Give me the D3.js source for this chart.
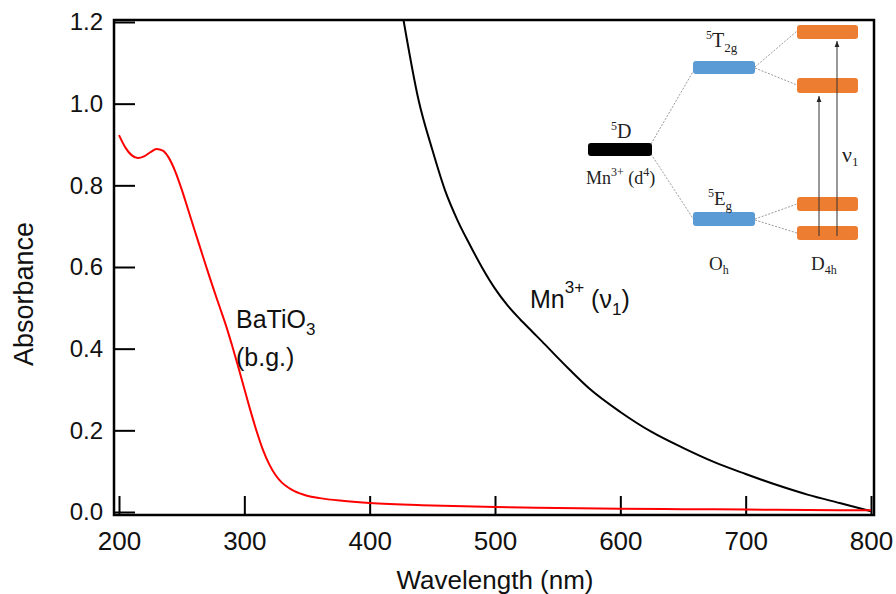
<!DOCTYPE html>
<html><head><meta charset="utf-8">
<script src="https://cdn.jsdelivr.net/npm/d3@7"></script>
<style>html,body{margin:0;padding:0;background:#fff}svg{display:block}</style>
</head><body>
<svg id="chart" width="896" height="594"></svg>
<script>
// ---- data ----
const xTicks = [200, 300, 400, 500, 600, 700, 800];
const yTicks = [0, 0.2, 0.4, 0.6, 0.8, 1.0, 1.2];

const batioWl  = [200, 205, 210, 215, 220, 225, 230, 235, 240, 245, 250, 255, 260, 265, 270, 275, 280, 285, 290, 295, 300, 305, 310, 315, 320, 325, 330, 335, 340, 350, 360, 380, 400, 450, 500, 550, 600, 650, 700, 750, 800];
const batioAbs = [0.923, 0.893, 0.874, 0.867, 0.871, 0.881, 0.889, 0.885, 0.866, 0.833, 0.79, 0.742, 0.693, 0.645, 0.597, 0.55, 0.505, 0.46, 0.41, 0.357, 0.302, 0.247, 0.196, 0.151, 0.116, 0.09, 0.072, 0.06, 0.051, 0.04, 0.034, 0.027, 0.022, 0.016, 0.012, 0.010, 0.008, 0.007, 0.006, 0.005, 0.004];

const mnWl  = [427, 439, 450, 460, 470, 480, 490, 500, 510, 520, 530, 540, 550, 560, 575, 600, 625, 650, 675, 700, 725, 750, 775, 800];
const mnAbs = [1.205, 1.009, 0.887, 0.789, 0.715, 0.654, 0.597, 0.547, 0.506, 0.472, 0.441, 0.41, 0.378, 0.347, 0.303, 0.245, 0.196, 0.157, 0.122, 0.093, 0.066, 0.042, 0.022, 0.002];

// ---- layout ----
const svg = d3.select('#chart');
const frame = {l: 114, r: 874, t: 20, b: 515};
const x = d3.scaleLinear().domain([200, 800]).range([119, 871]);
const y = d3.scaleLinear().domain([0, 1.2]).range([512, 22]);
const sans = 'Liberation Sans, Arial, Helvetica, sans-serif';
const serif = 'Liberation Serif, Times New Roman, serif';

svg.append('clipPath').attr('id', 'clip')
  .append('rect').attr('x', frame.l).attr('y', frame.t)
  .attr('width', frame.r - frame.l).attr('height', frame.b - frame.t);

// axes
const gy = svg.append('g').attr('transform', `translate(${frame.l + 1},0)`)
  .call(d3.axisLeft(y).tickValues(yTicks).tickFormat(d3.format('.1f'))
    .tickSizeInner(-20).tickSizeOuter(0).tickPadding(12));
gy.select('.domain').remove();
gy.attr('font-family', sans).attr('font-size', 24);
gy.selectAll('line').attr('stroke', '#000').attr('stroke-width', 2);
gy.selectAll('text').attr('fill', '#111');

const gx = svg.append('g').attr('transform', `translate(0,${frame.b - 1})`)
  .call(d3.axisBottom(x).tickValues(xTicks).tickFormat(d3.format('d'))
    .tickSizeInner(-18).tickSizeOuter(0).tickPadding(18));
gx.select('.domain').remove();
gx.attr('font-family', sans).attr('font-size', 26);
gx.selectAll('line').attr('stroke', '#000').attr('stroke-width', 2);
gx.selectAll('text').attr('fill', '#111');

// frame
svg.append('rect').attr('x', frame.l).attr('y', frame.t)
  .attr('width', frame.r - frame.l).attr('height', frame.b - frame.t)
  .attr('fill', 'none').attr('stroke', '#000').attr('stroke-width', 2.5);

// axis titles
svg.append('text').attr('transform', 'translate(33,294) rotate(-90)')
  .attr('text-anchor', 'middle').attr('font-family', sans).attr('font-size', 27)
  .attr('fill', '#111').text('Absorbance');
svg.append('text').attr('x', 495).attr('y', 589)
  .attr('text-anchor', 'middle').attr('font-family', sans).attr('font-size', 26)
  .attr('fill', '#111').text('Wavelength (nm)');

// curves
const line = d3.line().x(d => x(d[0])).y(d => y(d[1])).curve(d3.curveMonotoneX);
const plot = svg.append('g').attr('clip-path', 'url(#clip)');
plot.append('path').datum(d3.zip(mnWl, mnAbs)).attr('d', line)
  .attr('fill', 'none').attr('stroke', '#000').attr('stroke-width', 2);
plot.append('path').datum(d3.zip(batioWl, batioAbs)).attr('d', line)
  .attr('fill', 'none').attr('stroke', '#ff0000').attr('stroke-width', 2);

// annotations
const t1 = svg.append('text').attr('x', 236).attr('y', 328).attr('font-family', sans)
  .attr('font-size', 25).attr('fill', '#111');
t1.append('tspan').text('BaTiO');
t1.append('tspan').attr('font-size', 17).attr('dy', 7).text('3');
svg.append('text').attr('x', 236).attr('y', 366).attr('font-family', sans)
  .attr('font-size', 25).attr('fill', '#111').text('(b.g.)');

const t2 = svg.append('text').attr('x', 530).attr('y', 308).attr('font-family', sans)
  .attr('font-size', 25).attr('fill', '#111');
t2.append('tspan').text('Mn');
t2.append('tspan').attr('font-size', 17).attr('dy', -15).text('3+');
t2.append('tspan').attr('dy', 15).text(' (\u03bd');
t2.append('tspan').attr('font-size', 17).attr('dy', 7).text('1');
t2.append('tspan').attr('dy', -7).text(')');

// ---- inset energy diagram ----
const inset = svg.append('g').attr('font-family', serif).attr('fill', '#222');
const levels = [
  {x: 588, y: 143, w: 64, h: 13, c: '#000000'},
  {x: 693, y: 61,  w: 62, h: 13, c: '#5b9bd5'},
  {x: 693, y: 212, w: 62, h: 14, c: '#5b9bd5'},
  {x: 797, y: 25,  w: 61, h: 14, c: '#ed7d31'},
  {x: 797, y: 78,  w: 61, h: 15, c: '#ed7d31'},
  {x: 797, y: 197, w: 61, h: 14, c: '#ed7d31'},
  {x: 797, y: 226, w: 61, h: 14, c: '#ed7d31'}
];
const links = [
  [651, 144, 694, 70], [651, 154, 694, 220],
  [755, 67, 797, 31], [755, 68, 797, 85],
  [755, 219, 797, 204], [755, 220, 797, 233]
];
inset.selectAll('line.link').data(links).join('line').attr('class', 'link')
  .attr('x1', d => d[0]).attr('y1', d => d[1]).attr('x2', d => d[2]).attr('y2', d => d[3])
  .attr('stroke', '#9a9a9a').attr('stroke-width', 1).attr('stroke-dasharray', '2,1.5');
inset.selectAll('rect.lvl').data(levels).join('rect').attr('class', 'lvl')
  .attr('x', d => d.x).attr('y', d => d.y).attr('width', d => d.w).attr('height', d => d.h)
  .attr('rx', 3).attr('fill', d => d.c);

const defs = svg.append('defs');
defs.append('marker').attr('id', 'arr').attr('viewBox', '0 0 10 10').attr('refX', 10).attr('refY', 5)
  .attr('markerWidth', 6).attr('markerHeight', 6).attr('orient', 'auto')
  .append('path').attr('d', 'M0,1 L10,5 L0,9 Z').attr('fill', '#222');
[[819, 236, 96], [837, 236, 41]].forEach(a => {
  inset.append('line').attr('x1', a[0]).attr('y1', a[1]).attr('x2', a[0]).attr('y2', a[2])
    .attr('stroke', '#333').attr('stroke-width', 1).attr('marker-end', 'url(#arr)');
});

function label(xp, yp, parts) {
  const t = inset.append('text').attr('x', xp).attr('y', yp);
  parts.forEach(p => t.append('tspan').attr('font-size', p[1]).attr('dy', p[2] || 0).text(p[0]));
}
label(611, 138, [['5', 12, -8], ['D', 20, 8]]);
label(586, 184, [['Mn', 18], ['3+', 12, -8], [' (d', 18, 8], ['4', 12, -8], [')', 18, 8]]);
label(706, 47, [['5', 12, -8], ['T', 20, 8], ['2g', 13, 5]]);
label(708, 205, [['5', 12, -8], ['E', 19, 8], ['g', 13, 5]]);
label(709, 270, [['O', 19], ['h', 12, 4]]);
label(811, 270, [['D', 19], ['4h', 12, 4]]);
label(842, 162, [['\u03bd', 22], ['1', 13, 4]]);
</script>
</body></html>
